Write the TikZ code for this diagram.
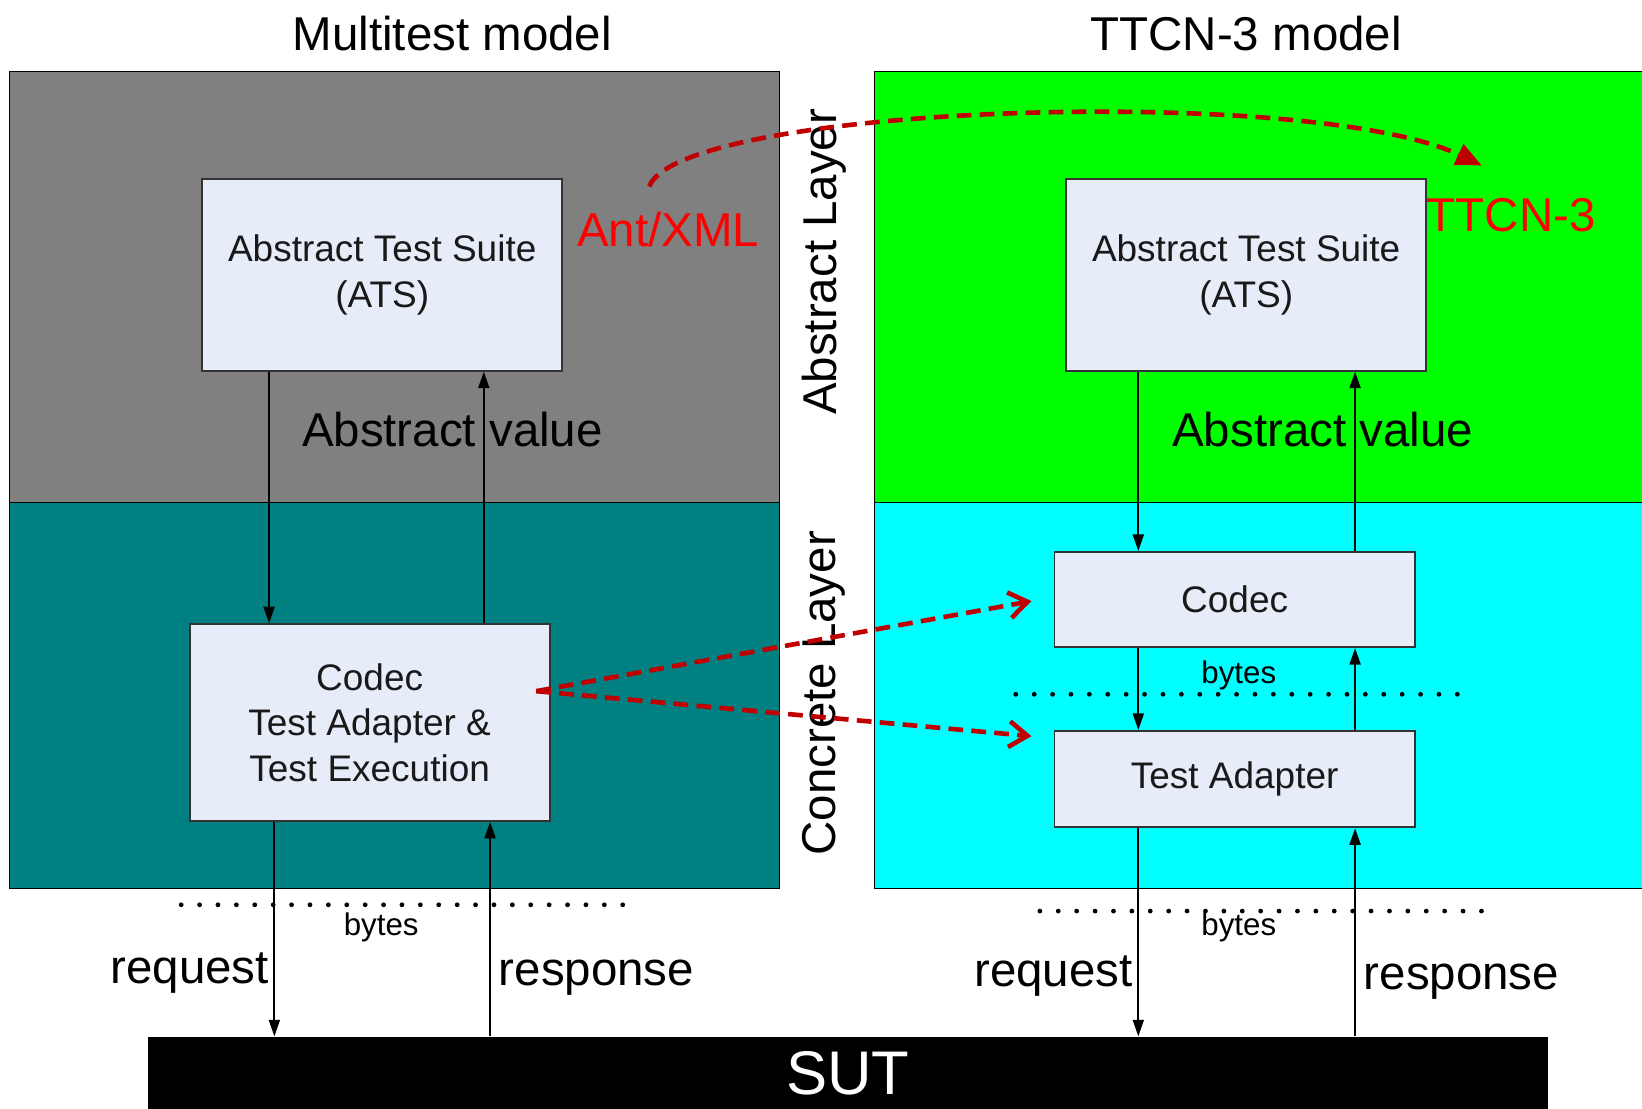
\documentclass[tikz,border=0pt]{standalone}
\usepackage{fontspec}
\setmainfont{Liberation Sans}
\usetikzlibrary{arrows.meta}

\definecolor{boxfill}{HTML}{E6ECF8}
\definecolor{linkred}{HTML}{C00000}
\definecolor{absgray}{HTML}{808080}
\definecolor{conteal}{HTML}{008080}
\definecolor{absgreen}{HTML}{00FF00}
\definecolor{concyan}{HTML}{00FFFF}

\tikzset{
  box/.style={draw=black!80,line width=1pt,fill=boxfill,inner sep=0pt,
    minimum width=6.88cm,align=center,text=black!90,
    font=\fontsize{20.1}{24.6}\selectfont},
  big/.style={font=\fontsize{25.8}{30}\selectfont},
  small/.style={font=\fontsize{17}{20}\selectfont},
  flow/.style={line width=1pt,-{Triangle[length=9pt,width=6pt]}},
  dots/.style={line width=2.6pt,line cap=round,dash pattern=on 0pt off 10pt},
  link/.style={linkred,line width=2.5pt,dash pattern=on 8pt off 4.5pt},
}

\begin{document}
\begin{tikzpicture}[x=0.02cm,y=-0.02cm]
  \useasboundingbox (0,0) rectangle (1568,1059);

  \draw[fill=absgray] (9,68) rectangle (744,480);
  \draw[fill=conteal] (9,480) rectangle (744,848);
  \draw[fill=absgreen] (835,68) rectangle (1568,480);
  \draw[fill=concyan] (835,480) rectangle (1568,848);

  \node[big] (title1) at (432,32) {Multitest model};
  \node[big] (title2) at (1190,32) {TTCN-3 model};
  \node[big,rotate=90] (abslayer) at (787,250) {Abstract Layer};
  \node[big,rotate=90] (conlayer) at (787,662) {Concrete Layer};

  \node[box,minimum height=3.66cm] (ats1) at (365,262.5) {Abstract Test Suite\\(ATS)};
  \node[box,minimum height=3.76cm] (codec1) at (353,690) {Codec\\Test Adapter \&\\Test Execution};
  \node[box,minimum height=3.66cm] (ats2) at (1190,262.5) {Abstract Test Suite\\(ATS)};
  \node[box,minimum height=1.82cm] (codec2) at (1179,572.5) {Codec};
  \node[box,minimum height=1.84cm] (adapter2) at (1179,744) {Test Adapter};
  \node[fill=black,text=white,inner sep=0pt,minimum width=26.74cm,minimum height=1.38cm,
    font=\fontsize{33.5}{36}\selectfont] (sut) at (809.5,1024.5) {SUT};

  \coordinate (lx1) at (257,0);
  \coordinate (lx2) at (462,0);
  \coordinate (lx3) at (262,0);
  \coordinate (lx4) at (468,0);
  \coordinate (rx1) at (1087,0);
  \coordinate (rx2) at (1294,0);

  \draw[flow] (ats1.south -| lx1) -- (codec1.north -| lx1);
  \draw[flow] (codec1.north -| lx2) -- (ats1.south -| lx2);
  \draw[flow] (codec1.south -| lx3) -- (sut.north -| lx3);
  \draw[flow] (sut.north -| lx4) -- (codec1.south -| lx4);
  \foreach \a/\b in {ats2/codec2,codec2/adapter2,adapter2/sut} {
    \draw[flow] (\a.south -| rx1) -- (\b.north -| rx1);
    \draw[flow] (\b.north -| rx2) -- (\a.south -| rx2);
  }

  \node[big] (absval1) at (432,410) {Abstract value};
  \node[big] (absval2) at (1263,410) {Abstract value};

  \draw[dots] (173,864) -- (607,864);
  \draw[dots] (993,870) -- (1427,870);
  \draw[dots] (970,663) -- (1405,663);
  \node[small] (bytes1) at (364,886) {bytes};
  \node[small] (bytes2) at (1183,886) {bytes};
  \node[small] (bytes3) at (1183,645) {bytes};

  \node[big,anchor=east,inner sep=0pt] (req1) at (257,929) {request};
  \node[big,anchor=west,inner sep=0pt] (resp1) at (476,934) {response};
  \node[big,anchor=east,inner sep=0pt] (req2) at (1082,932) {request};
  \node[big,anchor=west,inner sep=0pt] (resp2) at (1302,937) {response};

  \node[big,text=red] (antxml) at (638,219) {Ant/XML};
  \node[big,text=red] (ttcn) at (1443,205) {TTCN-3};

  \coordinate (from) at (620,178);
  \coordinate (to) at (1415,158);
  \draw[link,-{Triangle[length=14pt,width=12pt]}] (from) .. controls (650,100) and (1250,80) .. (to);

  \coordinate (src) at (512,660);
  \coordinate (tgt1) at (985,574);
  \coordinate (tgt2) at (985,703);
  \foreach \t in {tgt1,tgt2}
    \draw[link,-{Straight Barb[length=10pt,width=14pt]}] (src) -- (\t);
\end{tikzpicture}
\end{document}
